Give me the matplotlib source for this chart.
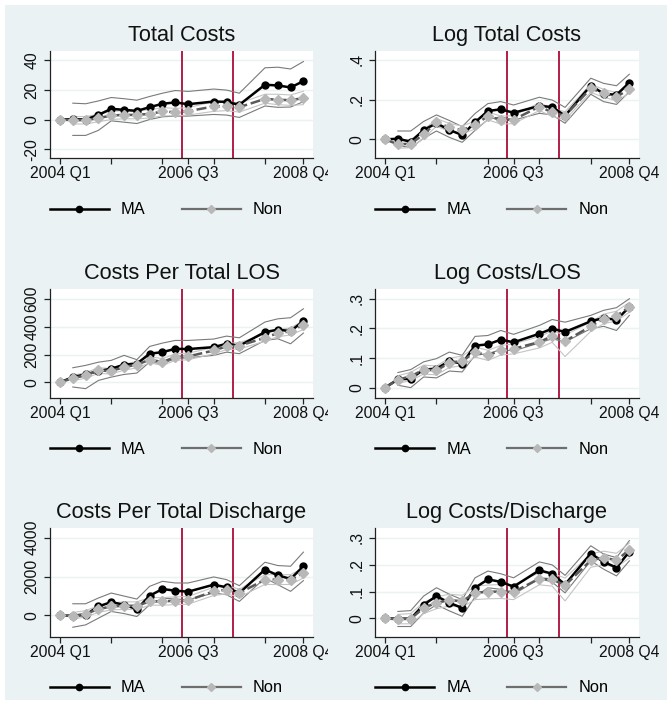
import numpy as np
import matplotlib.pyplot as plt
from matplotlib.lines import Line2D
from matplotlib.patches import Rectangle
from matplotlib.transforms import Bbox, TransformedBbox

plt.rcParams['font.family'] = ['Liberation Sans', 'DejaVu Sans']

nan = np.nan

# quarters since 2004 Q1 (2006 Q4 and 2007 Q4 are absent)
quarters = [0, 1, 2, 3, 4, 5, 6, 7, 8, 9, 10, 12, 13, 14, 16, 17, 18, 19]
tick_pos = [0, 4, 8, 10, 12, 16, 19]
tick_lab = ['2004 Q1', '', '', '2006 Q3', '', '', '2008 Q4']
reform_lines = [9.5, 13.5]

# 1. Total Costs
ma1 = [0, 0.2, 0, 3.1, 7.2, 6.5, 5.8, 8.3, 10.6, 11.5, 10.3, 12.1, 11.9, 9.9, 23.4, 22.9, 21.6, 25.8]
non1 = [0, -0.4, -0.4, 0.9, 2.7, 3.1, 3.1, 3.8, 5.4, 4.9, 5.6, 8.8, 9.0, 8.3, 13.9, 13.3, 13.0, 14.4]
ma_hi1 = [nan, 11, 10.6, 12.5, 14.8, 14, 13, 15.5, 17.7, 19.5, 18.9, 20.5, 19.8, 17.7, 34.8, 35.2, 34, 39]
ma_lo1 = [nan, -10.7, -10.7, -7.3, -0.9, -1.8, -2.7, 0, 1.8, 2.3, 2.3, 3.4, 3, 1.4, 9.1, 8.2, 8.4, 12]
non_hi1 = [nan, 2, 2, 3.5, 5.5, 6, 6, 6.5, 8, 7.5, 8, 12, 12, 11, 17, 17, 16.5, 19]
non_lo1 = [nan, -3, -3, -1.5, 0, 0.5, 0.5, 1, 2.5, 2.5, 3, 5.5, 6, 5, 11, 10, 9.5, 10]

# 2. Log Total Costs
ma2 = [0, 0.003, -0.012, 0.047, 0.081, 0.047, 0.022, 0.086, 0.143, 0.151, 0.134, 0.168, 0.163, 0.119, 0.271, 0.230, 0.224, 0.286]
non2 = [0, -0.025, -0.022, 0.025, 0.086, 0.06, 0.047, 0.072, 0.118, 0.097, 0.099, 0.165, 0.136, 0.119, 0.257, 0.232, 0.215, 0.252]
ma_hi2 = [nan, 0.042, 0.042, 0.09, 0.123, 0.095, 0.064, 0.13, 0.18, 0.19, 0.173, 0.212, 0.198, 0.161, 0.308, 0.282, 0.27, 0.328]
ma_lo2 = [nan, -0.03, -0.042, 0.005, 0.042, 0.01, -0.015, 0.045, 0.10, 0.114, 0.097, 0.131, 0.123, 0.081, 0.227, 0.19, 0.176, 0.24]
non_hi2 = [nan, -0.005, -0.002, 0.045, 0.105, 0.08, 0.067, 0.092, 0.138, 0.117, 0.119, 0.185, 0.156, 0.139, 0.277, 0.252, 0.235, 0.272]
non_lo2 = [nan, -0.045, -0.042, 0.005, 0.066, 0.04, 0.027, 0.052, 0.098, 0.077, 0.079, 0.145, 0.116, 0.099, 0.237, 0.212, 0.195, 0.232]

# 3. Costs Per Total LOS
ma3 = [0, 38, 57, 81, 98, 127, 134, 206, 217, 241, 239, 253, 277, 263, 361, 378, 368, 440]
non3 = [0, 31, 50, 86, 81, 110, 127, 163, 146, 182, 186, 229, 258, 263, 320, 354, 366, 413]
ma_hi3 = [nan, 105, 122, 145, 158, 194, 163, 258, 282, 301, 301, 311, 332, 320, 433, 456, 464, 528]
ma_lo3 = [nan, -33, -45, 14, 38, 57, 67, 146, 134, 170, 177, 194, 217, 206, 301, 313, 277, 354]
non_hi3 = [nan, 50, 70, 105, 100, 130, 150, 185, 170, 205, 210, 250, 280, 285, 345, 380, 390, 445]
non_lo3 = [nan, 12, 30, 65, 60, 88, 104, 140, 122, 158, 162, 205, 235, 240, 295, 328, 340, 380]

# 4. Log Costs/LOS
ma4 = [0, 0.028, 0.03, 0.061, 0.064, 0.09, 0.081, 0.142, 0.146, 0.162, 0.153, 0.182, 0.199, 0.188, 0.224, 0.235, 0.229, 0.272]
non4 = [0, 0.027, 0.038, 0.061, 0.058, 0.084, 0.09, 0.12, 0.109, 0.126, 0.131, 0.154, 0.174, 0.157, 0.207, 0.233, 0.242, 0.272]
ma_hi4 = [nan, 0.051, 0.061, 0.087, 0.098, 0.12, 0.109, 0.173, 0.176, 0.193, 0.18, 0.21, 0.23, 0.221, 0.244, 0.261, 0.27, 0.30]
ma_lo4 = [nan, 0.008, 0.0, 0.036, 0.033, 0.056, 0.053, 0.109, 0.115, 0.128, 0.124, 0.151, 0.165, 0.154, 0.199, 0.207, 0.193, 0.244]
non_hi4 = [nan, 0.04, 0.052, 0.076, 0.073, 0.1, 0.106, 0.137, 0.126, 0.142, 0.148, 0.172, 0.192, 0.177, 0.222, 0.248, 0.258, 0.288]
non_lo4 = [nan, 0.014, 0.024, 0.046, 0.043, 0.068, 0.074, 0.103, 0.092, 0.11, 0.114, 0.134, 0.153, 0.105, 0.19, 0.216, 0.225, 0.255]

# 5. Costs Per Total Discharge
ma5 = [0, -20, 34, 466, 690, 552, 328, 1017, 1362, 1276, 1224, 1586, 1448, 1155, 2362, 2069, 1879, 2534]
non5 = [0, -17, 86, 328, 466, 500, 500, 724, 724, 759, 776, 1241, 1328, 1155, 1845, 1845, 1845, 2190]
ma_hi5 = [nan, 603, 603, 900, 1155, 1000, 845, 1500, 1758, 1672, 1672, 1983, 1845, 1534, 2741, 2569, 2534, 3258]
ma_lo5 = [nan, -603, -483, -138, 207, 100, -52, 552, 896, 845, 810, 1155, 1069, 724, 1931, 1586, 1241, 1793]
non_hi5 = [nan, 150, 250, 500, 650, 700, 700, 920, 920, 960, 980, 1450, 1550, 1350, 2100, 2100, 2100, 2450]
non_lo5 = [nan, -180, -80, 160, 290, 310, 310, 530, 530, 560, 580, 1030, 1110, 950, 1600, 1590, 1600, 1930]

# 6. Log Costs/Discharge
ma6 = [0, -0.001, -0.001, 0.051, 0.083, 0.058, 0.039, 0.114, 0.145, 0.136, 0.118, 0.179, 0.166, 0.126, 0.241, 0.21, 0.189, 0.248]
non6 = [0, -0.003, -0.001, 0.039, 0.058, 0.068, 0.064, 0.095, 0.099, 0.1, 0.098, 0.148, 0.145, 0.123, 0.216, 0.226, 0.216, 0.255]
ma_hi6 = [nan, 0.026, 0.029, 0.083, 0.114, 0.09, 0.07, 0.151, 0.176, 0.166, 0.151, 0.21, 0.199, 0.16, 0.27, 0.239, 0.226, 0.289]
ma_lo6 = [nan, -0.03, -0.03, 0.02, 0.051, 0.028, 0.008, 0.08, 0.114, 0.108, 0.089, 0.148, 0.135, 0.095, 0.214, 0.183, 0.158, 0.214]
non_hi6 = [nan, 0.015, 0.018, 0.06, 0.08, 0.09, 0.086, 0.12, 0.124, 0.126, 0.125, 0.17, 0.168, 0.15, 0.24, 0.25, 0.242, 0.28]
non_lo6 = [nan, -0.02, -0.02, 0.018, 0.036, 0.046, 0.042, 0.07, 0.073, 0.074, 0.07, 0.125, 0.12, 0.065, 0.19, 0.2, 0.19, 0.225]

panels = [
    ("Total Costs", ma1, non1, ma_hi1, ma_lo1, non_hi1, non_lo1,
     [-20, 0, 20, 40], ['-20', '0', '20', '40'], (-25.9, 46.1)),
    ("Log Total Costs", ma2, non2, ma_hi2, ma_lo2, non_hi2, non_lo2,
     [0, 0.2, 0.4], ['0', '.2', '.4'], (-0.094, 0.445)),
    ("Costs Per Total LOS", ma3, non3, ma_hi3, ma_lo3, non_hi3, non_lo3,
     [0, 200, 400, 600], ['0', '200', '400', '600'], (-112, 670)),
    ("Log Costs/LOS", ma4, non4, ma_hi4, ma_lo4, non_hi4, non_lo4,
     [0, 0.1, 0.2, 0.3], ['0', '.1', '.2', '.3'], (-0.035, 0.333)),
    ("Costs Per Total Discharge", ma5, non5, ma_hi5, ma_lo5, non_hi5, non_lo5,
     [0, 2000, 4000], ['0', '2000', '4000'], (-1106, 4500)),
    ("Log Costs/Discharge", ma6, non6, ma_hi6, ma_lo6, non_hi6, non_lo6,
     [0, 0.1, 0.2, 0.3], ['0', '.1', '.2', '.3'], (-0.069, 0.336)),
]

W, H = 672, 712
BG = '#eaf2f3'
fig = plt.figure(figsize=(W / 100, H / 100), dpi=100, facecolor='white')
fig.patches.append(Rectangle((5 / W, 12 / H), 662 / W, 695 / H, transform=fig.transFigure,
                             facecolor=BG, edgecolor='none', zorder=-10))

col_left = [50, 375]
col_right = [313, 639]
row_top = [51, 289, 528]
row_bot = [158, 398, 637]
legend_y = [210, 449, 688]

for k, (title, ma, non, ma_hi, ma_lo, non_hi, non_lo, yt, ytl, ylim) in enumerate(panels):
    r, c = divmod(k, 2)
    x0, x1 = col_left[c], col_right[c]
    y0, y1 = row_top[r], row_bot[r]
    ax = fig.add_axes([x0 / W, 1 - y1 / H, (x1 - x0) / W, (y1 - y0) / H])
    ax.set_facecolor('white')

    for xv in reform_lines:
        ax.axvline(xv, color='#b01e48', lw=1.4, zorder=1.5)

    ax.plot(quarters, ma_hi, color='#7a7a7a', lw=0.8, zorder=2)
    ax.plot(quarters, ma_lo, color='#7a7a7a', lw=0.8, zorder=2)
    ax.plot(quarters, non_hi, color='#c4c4c4', lw=0.8, zorder=2)
    ax.plot(quarters, non_lo, color='#c4c4c4', lw=0.8, zorder=2)
    ax.plot(quarters, ma, color='black', lw=1.8, marker='o', ms=5, zorder=3)
    ax.plot(quarters, non, color='#5a5a5a', lw=1.8, ls=(0, (4, 1.5)), marker='D',
            ms=5, mfc='#b8b8b8', mec='#b8b8b8', zorder=4)

    ax.set_xlim(-0.78, 19.75)
    ax.set_ylim(*ylim)
    ax.set_xticks(tick_pos)
    ax.set_xticklabels(tick_lab)
    ax.set_yticks(yt)
    ax.set_yticklabels(ytl, rotation=90, va='center')
    ax.grid(axis='y', color=BG, lw=1.0)
    ax.set_axisbelow(True)
    ax.tick_params(axis='both', labelsize=11.3, length=4.5, width=0.9, color='#222222',
                   labelcolor='#111111')
    ax.tick_params(axis='x', pad=1.5)
    ax.tick_params(axis='y', pad=3)
    for s in ['top', 'right']:
        ax.spines[s].set_visible(False)
    for s in ['left', 'bottom']:
        ax.spines[s].set_color('#222222')
        ax.spines[s].set_linewidth(0.9)

    ax.set_title(title, fontsize=15.7, pad=7, color='#111111')

    if c == 0:
        lab = ax.xaxis.get_major_ticks()[-1].label1
        lab.set_clip_on(True)
        lab.set_clip_box(TransformedBbox(Bbox([[0, 0], [328 / W, 1]]), fig.transFigure))

    handles = [
        Line2D([], [], color='black', lw=1.8, marker='o', ms=4.5),
        Line2D([], [], color='#6e6e6e', lw=1.6, marker='D', ms=4.5,
               mfc='#b8b8b8', mec='#b8b8b8'),
    ]
    cx = (x0 + x1) / 2 - 15
    fig.legend(handles, ['MA', 'Non'], loc='center', ncol=2, frameon=False,
               bbox_to_anchor=(cx / W, 1 - legend_y[r] / H), bbox_transform=fig.transFigure,
               fontsize=11.8, handlelength=3.6, handletextpad=0.75, columnspacing=2.2,
               borderpad=0, numpoints=1)

fig.savefig('out.png', dpi=100, facecolor='white')
